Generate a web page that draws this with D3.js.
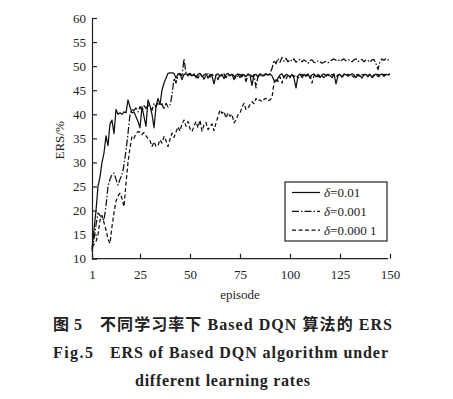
<!DOCTYPE html>
<html lang="zh">

<head>
    <meta charset="UTF-8">
    <script src="https://d3js.org/d3.v7.min.js"></script>
    <title>ERS of Based DQN</title>
    <style>
        body { margin: 0; background: #fff; }
        svg { display: block; font-family: "Liberation Serif", "DejaVu Serif", serif; }
        .axis path, .axis line { stroke: #222; stroke-width: 1.2; }
        .axis text { font-size: 13px; fill: #222; font-family: "Liberation Serif", serif; }
        .series { fill: none; stroke: #111; stroke-width: 1.25; stroke-linejoin: round; }
        .caption { font-weight: bold; fill: #222; font-size: 16px; }
        .cjk { font-family: "Noto Sans CJK SC", sans-serif; font-weight: bold; }
    </style>
</head>

<body>
    <div id="chart"></div>
    <script>
        // Data (episode 1..150)
        const xTicks = [1, 25, 50, 75, 100, 125, 150];
        const yTicks = [10, 15, 20, 25, 30, 35, 40, 45, 50, 55, 60];
        const seriesNames = ["0.01", "0.001", "0.000 1"];

        const ers001 = [
            12, 16, 20, 25, 27, 30, 32, 35.5, 33.5, 38,
            38.8, 36, 41, 40, 40.3, 40, 40.5, 40.3, 43, 41.5,
            40.3, 40.5, 39.5, 38.5, 37.2, 41.6, 39.5, 37.5, 43, 41.8,
            40, 37.2, 41.6, 43.3, 42, 45, 46.5, 47.5, 48.5, 48.6,
            48.6, 48.5, 47.5, 48.4, 48.5, 47.2, 48.3, 48.4, 48.3, 48.5,
            48.0, 48.4, 47.6, 48.3, 48.5, 47.8, 48.2, 48.4, 47.5, 48.3,
            48.0, 46.3, 48.2, 48.4, 47.9, 48.3, 47.4, 48.2, 48.5, 48.0,
            48.3, 47.2, 48.1, 48.4, 47.6, 48.3, 48.2, 47.8, 48.4, 48.1,
            46.0, 48.2, 48.3, 47.7, 48.4, 48.2, 48.0, 48.4, 48.2, 48.3,
            48.0, 47.0, 46.8, 47.5, 48.2, 48.4, 47.6, 48.3, 48.1, 47.8,
            48.3, 47.5, 45.5, 48.0, 48.4, 47.6, 48.3, 47.9, 48.4, 47.5,
            48.2, 48.4, 47.8, 48.3, 47.6, 48.2, 48.4, 47.9, 48.3, 48.1,
            47.6, 48.4, 46.3, 48.0, 48.3, 47.7, 48.4, 48.2, 48.3, 48.1,
            48.4, 48.2, 47.6, 48.3, 48.0, 47.5, 48.2, 48.3, 47.8, 48.3,
            47.6, 48.0, 48.4, 47.8, 48.2, 48.4, 47.9, 48.3, 48.2, 48.4
        ];

        const ers0001 = [
            11.5, 14, 17, 19.5, 19, 18.5, 18, 21, 25, 26.5,
            27.5, 27.8, 26.5, 25.3, 26.5, 27.4, 29.5, 32.5, 36, 40,
            41, 40.8, 41.3, 40.5, 41.6, 40.7, 41.8, 41.2, 42, 41.5,
            40.8, 42.3, 41.5, 42.5, 41.8, 42.2, 41, 42.3, 41.5, 41.8,
            44, 47.5, 46.5, 48, 48.3, 48, 51.5, 48.5, 48, 48.4,
            47.8, 48.3, 48.0, 47.5, 48.4, 48.1, 47.3, 48.2, 48.4, 47.7,
            48.3, 47.9, 48.1, 47.2, 48.3, 48.0, 48.4, 47.6, 48.2, 47.9,
            48.3, 48.0, 47.4, 48.2, 48.3, 47.8, 48.4, 46.8, 48.1, 48.3,
            47.8, 48.2, 45.5, 48.0, 48.3, 47.7, 48.2, 48.4, 48.0, 48.5,
            49.5, 51.2, 50.5, 51.6, 50.8, 51.8, 51, 51.6, 50.9, 51.4,
            51.0, 51.5, 50.8, 51.2, 51.4, 50.9, 51.3, 51.0, 50.6, 51.2,
            51.3, 50.8, 50.7, 51.1, 50.9, 50.6, 50.8, 51.0, 50.7, 51.0,
            51.3, 51.5, 51.2, 51.4, 51.0, 51.3, 51.5, 51.1, 51.4, 51.2,
            50.9, 51.3, 51.5, 51.0, 51.2, 51.4, 50.9, 51.3, 51.2, 50.8,
            51.3, 51.4, 50.5, 49.3, 51.0, 51.5, 51.2, 51.6, 51.3, 51.5
        ];

        const ers00001 = [
            12.5, 13, 13.5, 15, 18, 19, 17.5, 16, 14, 13.2,
            16.7, 19.5, 22, 23, 23.6, 22.5, 20.8, 25.7, 30, 33,
            35.4, 35, 36, 36.4, 36.3, 35.8, 36.2, 35.5, 35, 34.5,
            33.3, 34.3, 33.3, 33.5, 34.7, 34, 35.4, 34.5, 33.3, 34.8,
            36.1, 35.2, 36.3, 37.4, 36.5, 38, 38.8, 37.5, 38.5, 37,
            36.4, 37.5, 38.5, 37.2, 38.8, 36.5, 37.8, 38.3, 36.8, 37.4,
            38.0, 36.6, 38.2, 39.5, 40.9, 40.2, 40.6, 39.2, 40.3, 39.6,
            40.0, 38.2, 38.8, 39.9, 40.2, 41.5, 42.3, 41.0, 41.3, 42.0,
            42.6, 42.2, 43.3, 42.8, 43.0, 42.6, 43.1, 43.3, 42.8, 43.0,
            43.5, 46.5, 47.5, 46.8, 47.8, 46.5, 48.0, 47.3, 48.2, 47.6,
            48.3, 47.8, 48.2, 47.5, 48.0, 48.3, 47.7, 48.2, 47.9, 48.1,
            46.5, 48.0, 48.3, 47.8, 48.2, 48.0, 47.6, 48.3, 48.1, 47.9,
            48.3, 48.0, 47.7, 48.2, 48.3, 47.8, 48.1, 48.3, 47.9, 48.2,
            48.0, 47.7, 48.3, 48.1, 47.8, 48.2, 48.3, 47.9, 48.1, 48.3,
            47.8, 48.2, 48.0, 48.3, 47.9, 48.2, 48.3, 48.0, 48.2, 48.3
        ];

        const allSeries = [ers001, ers0001, ers00001];
        const dashes = [null, "7,2,1.5,2", "4,2.5"];

        // Dimensions
        const width = 453;
        const height = 399;
        const margin = { left: 92, top: 18, right: 65, bottom: 140 };

        const svg = d3.select("#chart")
            .append("svg")
            .attr("width", width)
            .attr("height", height);

        // Scales
        const x = d3.scaleLinear()
            .domain([1, 150])
            .range([margin.left, 390]);

        const y = d3.scaleLinear()
            .domain([10, 60])
            .range([258.7, margin.top]);

        // Axes, ticks pointing inward
        svg.append("g")
            .attr("class", "axis")
            .attr("transform", `translate(0,${y(10)})`)
            .call(d3.axisBottom(x).tickValues(xTicks).tickSizeInner(-5).tickSizeOuter(0).tickPadding(11))
            .call(g => g.select(".domain").attr("d", `M${x(1)},0H${x(150) - 2}`));

        svg.append("g")
            .attr("class", "axis")
            .attr("transform", `translate(${x(1)},0)`)
            .call(d3.axisLeft(y).tickValues(yTicks).tickSizeInner(-5).tickSizeOuter(0).tickPadding(6));

        // Draw data
        const line = d3.line()
            .x((d, i) => x(i + 1))
            .y(d => y(d));

        svg.selectAll(".series")
            .data(allSeries)
            .enter()
            .append("path")
            .attr("class", "series")
            .attr("stroke-dasharray", (d, i) => dashes[i])
            .attr("d", line);

        // Axis titles
        svg.append("text")
            .attr("transform", `translate(64,${(y(10) + y(60)) / 2 + 2}) rotate(-90)`)
            .attr("text-anchor", "middle")
            .attr("font-size", 13)
            .attr("fill", "#222")
            .text("ERS/%");

        svg.append("text")
            .attr("x", 240)
            .attr("y", 299)
            .attr("text-anchor", "middle")
            .attr("font-size", 13)
            .attr("fill", "#222")
            .text("episode");

        // Legend
        const legend = svg.append("g").attr("transform", "translate(285,182)");
        legend.append("rect")
            .attr("width", 102)
            .attr("height", 59)
            .attr("fill", "#fff")
            .attr("stroke", "#222")
            .attr("stroke-width", 1.2);

        seriesNames.forEach((name, i) => {
            const ly = 10.5 + i * 18.8;
            legend.append("line")
                .attr("class", "series")
                .attr("x1", 7).attr("x2", 35)
                .attr("y1", ly).attr("y2", ly)
                .attr("stroke-dasharray", dashes[i]);
            legend.append("text")
                .attr("x", 39)
                .attr("y", ly + 4.5)
                .attr("font-size", 13)
                .attr("fill", "#222")
                .html(`<tspan font-style="italic">δ</tspan>=${name}`);
        });

        // Caption, stretched to the widths of the printed caption
        const caption = [
            { x: 53, y: 330, w: 29, html: `<tspan class="cjk">图</tspan>5` },
            { x: 100, y: 330, w: 292, html: `<tspan class="cjk">不同学习率下</tspan> Based DQN <tspan class="cjk">算法的</tspan> ERS` },
            { x: 53, y: 358, w: 40, html: "Fig.5" },
            { x: 110, y: 358, w: 278, html: "ERS of Based DQN algorithm under" },
            { x: 135, y: 386, w: 175, html: "different learning rates" }
        ];

        svg.selectAll(".caption")
            .data(caption)
            .enter()
            .append("text")
            .attr("class", "caption")
            .attr("x", d => d.x)
            .attr("y", d => d.y)
            .attr("textLength", d => d.w)
            .attr("lengthAdjust", "spacing")
            .html(d => d.html);
    </script>
</body>

</html>
